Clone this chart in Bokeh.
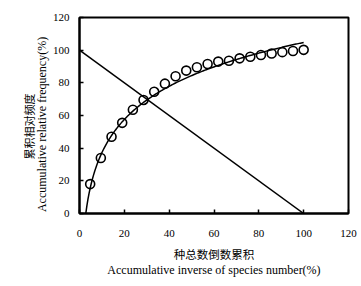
import numpy as np
from bokeh.plotting import figure
from bokeh.models import FixedTicker, Range1d, LinearAxis
from bokeh.embed import file_html
from bokeh.resources import INLINE

# data
x_obs = [4.76, 9.52, 14.29, 19.05, 23.81, 28.57, 33.33, 38.10, 42.86, 47.62, 52.38,
         57.14, 61.90, 66.67, 71.43, 76.19, 80.95, 85.71, 90.48, 95.24, 100.0]
y_obs = [18, 34, 47, 55.5, 63.5, 69.5, 74.5, 79.5, 84, 87.5, 89.5,
         91.5, 93, 93.5, 95, 96, 97, 98, 98.8, 99.5, 100.2]
# fitted logarithmic curve y = a*ln(x) + b
fit_a = 29.3
fit_b = -30.2
fit_x_start = 2.8
fit_x_end = 100.0
# diagonal line
diag_x = [0, 100]
diag_y = [100, 0]
ticks = [0, 20, 40, 60, 80, 100, 120]

x_title_cn = "种总数倒数累积"
x_title_en = "Accumulative inverse of species number(%)"
y_title_cn = "累积相对频度"
y_title_en = "Accumulative relative frequency(%)"

SERIF = "Liberation Serif"
CJK = "Noto Sans CJK SC"

p = figure(width=361, height=286, output_backend="svg", toolbar_location=None,
           x_range=Range1d(0, 120), y_range=Range1d(0, 120),
           min_border_left=79, min_border_right=13, min_border_top=17, min_border_bottom=73)
p.background_fill_color = "white"
p.border_fill_color = "white"
p.outline_line_color = "black"
p.outline_line_width = 2
p.xgrid.visible = False
p.ygrid.visible = False

for ax in (p.xaxis[0], p.yaxis[0]):
    ax.ticker = FixedTicker(ticks=ticks)
    ax.major_tick_in = 4
    ax.major_tick_out = 0
    ax.minor_tick_line_color = None
    ax.axis_line_width = 2
    ax.major_tick_line_width = 1.5
    ax.major_label_text_font = SERIF
    ax.major_label_text_font_size = "11px"
    ax.major_label_text_color = "black"
    ax.axis_label_text_font_style = "normal"
    ax.axis_label_text_color = "black"
p.xaxis[0].major_label_standoff = 16
p.yaxis[0].major_label_standoff = 10

# inner titles
p.xaxis[0].axis_label = x_title_cn
p.xaxis[0].axis_label_text_font = CJK
p.xaxis[0].axis_label_text_font_size = "11.5px"
p.xaxis[0].axis_label_standoff = 6
p.yaxis[0].axis_label = y_title_en + "\u00a0" * 6
p.yaxis[0].axis_label_text_font = SERIF
p.yaxis[0].axis_label_text_font_size = "12px"
p.yaxis[0].axis_label_standoff = 1


def title_axis(text, font, size, standoff):
    return LinearAxis(ticker=FixedTicker(ticks=[]), axis_line_color=None,
                      major_tick_line_color=None, minor_tick_line_color=None,
                      major_label_text_font_size="0px", axis_label=text,
                      axis_label_text_font=font, axis_label_text_font_size=size,
                      axis_label_text_font_style="normal", axis_label_text_color="black",
                      axis_label_standoff=standoff)


p.add_layout(title_axis(x_title_en, SERIF, "12px", -2), "below")
p.add_layout(title_axis(y_title_cn + "\u3000" * 2, CJK, "11px", -5), "left")

# fitted curve
xf = np.linspace(fit_x_start, fit_x_end, 200)
yf = fit_a * np.log(xf) + fit_b
p.line(xf, yf, line_color="black", line_width=1.5)
# diagonal
p.line(diag_x, diag_y, line_color="black", line_width=1.5)
# observations
p.scatter(x_obs, y_obs, marker="circle", size=9, fill_color=None,
          line_color="black", line_width=1.6)

open("out.html", "w").write(file_html(p, INLINE))
